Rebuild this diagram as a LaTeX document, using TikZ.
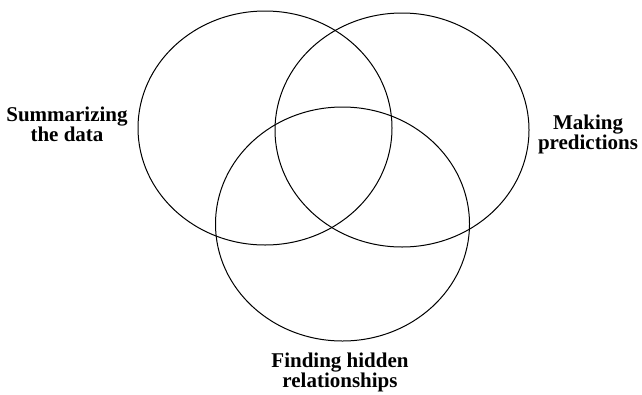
\documentclass[tikz,border=0pt]{standalone}
\usepackage{fontspec}
\setmainfont{Liberation Serif}
\begin{document}
\begin{tikzpicture}[x=1pt,y=-1pt,
  setcircle/.style={draw=black,line width=1pt},
  setlabel/.style={align=center,inner sep=0pt,anchor=base,font=\bfseries\fontsize{21}{20}\selectfont}]
\useasboundingbox (0,0) rectangle (642,394);
\draw[setcircle] (265,128) ellipse [x radius=127, y radius=117] coordinate (A);
\draw[setcircle] (402,130) ellipse [x radius=127, y radius=117] coordinate (B);
\draw[setcircle] (342.5,224) ellipse [x radius=127, y radius=117] coordinate (C);
\node[setlabel] (summ) at (67,141) {Summarizing\\the data};
\node[setlabel] (pred) at (588,149) {Making\\predictions};
\node[setlabel] (find) at (340,387) {Finding hidden\\relationships};
\end{tikzpicture}
\end{document}
